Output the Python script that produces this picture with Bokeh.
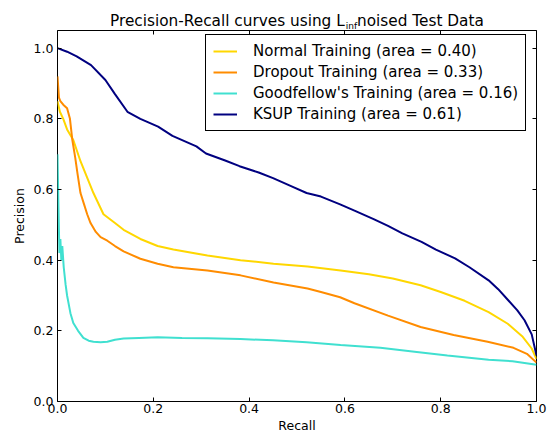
from bokeh.plotting import figure
from bokeh.models import Range1d, LinearAxis, FixedTicker, PrintfTickFormatter, Div
from bokeh.layouts import column
from bokeh.embed import file_html
from bokeh.resources import INLINE

# ---- data ----
ksup_recall = [0, 0.02, 0.04, 0.07, 0.1, 0.12, 0.146, 0.173, 0.21, 0.24, 0.29, 0.31, 0.35, 0.38,
               0.42, 0.45, 0.49, 0.52, 0.55, 0.59, 0.62, 0.66, 0.69, 0.72, 0.76, 0.79, 0.83, 0.86,
               0.9, 0.92, 0.94, 0.96, 0.975, 0.99, 1.0]
ksup_precision = [1.0, 0.99, 0.977, 0.952, 0.91, 0.87, 0.82, 0.80, 0.778, 0.752, 0.722, 0.702, 0.682,
                  0.666, 0.648, 0.632, 0.608, 0.59, 0.58, 0.558, 0.54, 0.516, 0.497, 0.476, 0.452,
                  0.43, 0.405, 0.38, 0.343, 0.318, 0.288, 0.258, 0.23, 0.19, 0.13]

normal_recall = [0, 0.005, 0.012, 0.02, 0.033, 0.048, 0.075, 0.096, 0.12, 0.138, 0.173, 0.209, 0.242,
                 0.313, 0.382, 0.451, 0.522, 0.591, 0.65, 0.7, 0.758, 0.8, 0.85, 0.9, 0.94, 0.97,
                 0.99, 1.0]
normal_precision = [0.85, 0.82, 0.80, 0.77, 0.74, 0.68, 0.59, 0.53, 0.505, 0.486, 0.46, 0.44, 0.43,
                    0.413, 0.40, 0.39, 0.382, 0.371, 0.36, 0.348, 0.329, 0.31, 0.285, 0.253, 0.22,
                    0.185, 0.15, 0.12]

dropout_recall = [0, 0.003, 0.006, 0.012, 0.02, 0.026, 0.031, 0.037, 0.042, 0.048, 0.055, 0.062,
                  0.069, 0.08, 0.09, 0.104, 0.12, 0.138, 0.173, 0.209, 0.242, 0.313, 0.382, 0.451,
                  0.522, 0.55, 0.59, 0.62, 0.69, 0.758, 0.827, 0.898, 0.952, 0.98, 1.0]
dropout_precision = [0.92, 0.86, 0.85, 0.84, 0.83, 0.80, 0.74, 0.69, 0.643, 0.59, 0.56, 0.53, 0.505,
                     0.48, 0.465, 0.455, 0.44, 0.425, 0.404, 0.39, 0.38, 0.371, 0.357, 0.337, 0.32,
                     0.31, 0.295, 0.278, 0.243, 0.211, 0.188, 0.169, 0.152, 0.135, 0.11]

goodfellow_recall = [0, 0.002, 0.004, 0.006, 0.008, 0.01, 0.013, 0.017, 0.02, 0.027, 0.033, 0.043,
                     0.054, 0.065, 0.075, 0.09, 0.104, 0.12, 0.138, 0.17, 0.209, 0.26, 0.313, 0.382,
                     0.45, 0.52, 0.591, 0.674, 0.75, 0.814, 0.9, 0.95, 1.0]
goodfellow_precision = [0.70, 0.55, 0.42, 0.46, 0.40, 0.44, 0.38, 0.33, 0.30, 0.25, 0.222, 0.20,
                        0.18, 0.172, 0.169, 0.168, 0.169, 0.175, 0.178, 0.18, 0.182, 0.18, 0.179,
                        0.177, 0.173, 0.168, 0.16, 0.152, 0.14, 0.13, 0.118, 0.114, 0.104]

series_labels = ["Normal Training (area = 0.40)", "Dropout Training (area = 0.33)",
                 "Goodfellow's Training (area = 0.16)", "KSUP Training (area = 0.61)"]
series_colors = ["gold", "darkorange", "turquoise", "navy"]

x_ticks = [0.0, 0.2, 0.4, 0.6, 0.8, 1.0]
y_ticks = [0.0, 0.2, 0.4, 0.6, 0.8, 1.0]

FONT = "DejaVu Sans"

title_html = (
    '<div style="margin:0; padding:11.5px 0 0 110px; line-height:18px; white-space:nowrap; '
    'font-family:\'DejaVu Sans\'; font-size:15.3px; color:black;">'
    'Precision-Recall curves using L'
    '<span style="font-size:9px; position:relative; top:3px; margin-left:1px;">inf</span>'
    'noised Test Data</div>'
)
title_div = Div(text=title_html, width=553, height=29, margin=(0, 0, 0, 0))

p = figure(width=553, height=406, output_backend="svg", toolbar_location=None,
           x_range=Range1d(0, 1), y_range=Range1d(0, 1.05),
           min_border_left=57, min_border_right=17, min_border_top=1, min_border_bottom=33,
           x_axis_label="Recall", y_axis_label="Precision", margin=(0, 0, 0, 0))
p.grid.visible = False
p.background_fill_color = "white"
p.border_fill_color = "white"
p.outline_line_color = "black"
p.outline_line_width = 1
p.outline_line_alpha = 1

curves = [(normal_recall, normal_precision), (dropout_recall, dropout_precision),
          (goodfellow_recall, goodfellow_precision), (ksup_recall, ksup_precision)]
for (rx, py), lab, col in zip(curves, series_labels, series_colors):
    p.line(rx, py, line_color=col, line_width=2, legend_label=lab)

bottom_axis = p.xaxis[0]
left_axis = p.yaxis[0]
top_axis = LinearAxis()
right_axis = LinearAxis()
p.add_layout(top_axis, "above")
p.add_layout(right_axis, "right")

for ax, ticks in [(bottom_axis, x_ticks), (top_axis, x_ticks), (left_axis, y_ticks), (right_axis, y_ticks)]:
    ax.ticker = FixedTicker(ticks=ticks)
    ax.formatter = PrintfTickFormatter(format="%.1f")
    ax.axis_line_color = None
    ax.major_tick_in = 4
    ax.major_tick_out = 0
    ax.minor_tick_in = 0
    ax.minor_tick_out = 0
    ax.major_tick_line_color = "black"
    ax.major_label_text_font = FONT
    ax.major_label_text_font_size = "12.5px"
    ax.major_label_text_color = "black"
    ax.major_label_standoff = 2
    ax.axis_label_text_font = FONT
    ax.axis_label_text_font_size = "12.5px"
    ax.axis_label_text_font_style = "normal"
    ax.axis_label_text_color = "black"
    ax.axis_label_standoff = 2

for ax in (top_axis, right_axis):
    ax.major_label_text_font_size = "0px"
    ax.major_label_text_alpha = 0
    ax.major_label_standoff = 0
    ax.axis_label = None

left_axis.major_label_standoff = 4
left_axis.axis_label_standoff = 4

leg = p.legend[0]
leg.location = (148, 270)
leg.padding = 7
leg.spacing = 3
leg.margin = 0
leg.glyph_width = 24
leg.glyph_height = 16
leg.label_standoff = 16
leg.label_text_font = FONT
leg.label_text_font_size = "15px"
leg.label_text_color = "black"
leg.border_line_color = "black"
leg.border_line_width = 1
leg.border_line_alpha = 1
leg.background_fill_alpha = 1

layout = column(title_div, p, spacing=0)
open("out.html", "w").write(file_html(layout, INLINE))
